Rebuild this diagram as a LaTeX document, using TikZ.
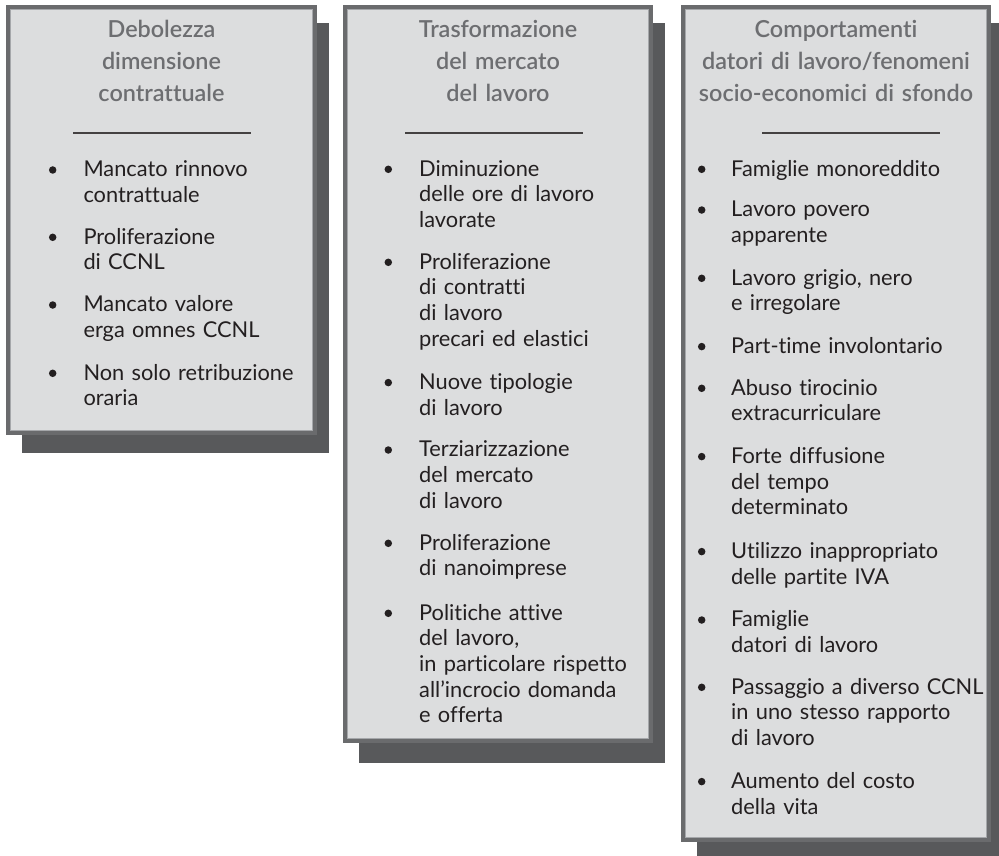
\documentclass[tikz,border=0pt]{standalone}
\usepackage{fontspec}
\setmainfont{Lato}[Ligatures=NoCommon]
\newfontfamily\titlefont{Lato Semibold}[Ligatures=NoCommon]
\definecolor{boxfill}{HTML}{DCDDDE}
\definecolor{boxborder}{HTML}{6A6B6D}
\definecolor{boxinner}{HTML}{A5A7AA}
\definecolor{shadowc}{HTML}{58595B}
\definecolor{titlec}{HTML}{6D6E71}
\definecolor{textc}{HTML}{231F20}
\tikzset{
  shadowbox/.style={fill=shadowc, draw=none},
  panelbox/.style={fill=boxfill, draw=boxborder, line width=4pt},
  panelinner/.style={draw=boxinner, line width=1.2pt},
  titletext/.style={anchor=base, inner sep=0pt, text width=300pt, align=center,
    text=titlec, font=\titlefont\fontsize{23.4}{32.2}\selectfont},
  itemtext/.style={anchor=base west, inner sep=0pt, text width=320pt, align=left,
    text=textc, font=\fontsize{21.8}{25.7}\selectfont},
  bulletdot/.style={circle, fill=textc, inner sep=0pt, minimum size=7.5pt},
  sepline/.style={draw=textc!85, line width=1.2pt}
}
\begin{document}
\begin{tikzpicture}[x=1pt,y=-1pt]
\useasboundingbox (0,0) rectangle (999,856);
% shadows
\path[shadowbox] (22,23) rectangle (329,453);
\path[shadowbox] (359,23) rectangle (665,763);
\path[shadowbox] (697,23) rectangle (999,856);
% panels
\path[panelbox] (8,7) rectangle (315,433);
\draw[panelinner] (10.6,9.6) rectangle (312.4,430.4);
\path[panelbox] (345,7) rectangle (651,741);
\draw[panelinner] (347.6,9.6) rectangle (648.4,738.4);
\path[panelbox] (683,7) rectangle (989,840);
\draw[panelinner] (685.6,9.6) rectangle (986.4,837.4);
% titles
\node[titletext] (t1) at (161.5,37.3) {Debolezza\\dimensione\\contrattuale};
\node[titletext] (t2) at (498,37.3) {Trasformazione\\del mercato\\del lavoro};
\node[titletext] (t3) at (836,37.3) {Comportamenti\\datori di lavoro/fenomeni\\socio-economici di sfondo};
% separators
\coordinate (s1a) at (73,133); \coordinate (s1b) at (251,133);
\coordinate (s2a) at (405,133); \coordinate (s2b) at (583,133);
\coordinate (s3a) at (762,133); \coordinate (s3b) at (940,133);
\draw[sepline] (s1a) -- (s1b);
\draw[sepline] (s2a) -- (s2b);
\draw[sepline] (s3a) -- (s3b);
% panel 1 items
\foreach \y/\txt [count=\i] in {176.7/{Mancato rinnovo\\contrattuale},
  244/{Proliferazione\\di CCNL},
  311.7/{Mancato valore\\erga omnes CCNL},
  380/{Non solo retribuzione\\oraria}}{
  \node[bulletdot] (p1b\i) at (52.7,\y-6.7) {};
  \node[itemtext] (p1i\i) at (83.3,\y) {\txt};
}
% panel 2 items
\foreach \y/\txt [count=\i] in {176/{Diminuzione\\delle ore di lavoro\\lavorate},
  269/{Proliferazione\\di contratti\\di lavoro\\precari ed elastici},
  389.3/{Nuove tipologie\\di lavoro},
  456.7/{Terziarizzazione\\del mercato\\di lavoro},
  550/{Proliferazione\\di nanoimprese},
  620/{Politiche attive\\del lavoro,\\in particolare rispetto\\all’incrocio domanda\\e offerta}}{
  \node[bulletdot] (p2b\i) at (388.3,\y-6.7) {};
  \node[itemtext] (p2i\i) at (419,\y) {\txt};
}
% panel 3 items
\foreach \y/\txt [count=\i] in {176/{Famiglie monoreddito},
  216.7/{Lavoro povero\\apparente},
  285/{Lavoro grigio, nero\\e irregolare},
  353.3/{Part-time involontario},
  395/{Abuso tirocinio\\extracurriculare},
  463.3/{Forte diffusione\\del tempo\\determinato},
  558.3/{Utilizzo inappropriato\\delle partite IVA},
  626.7/{Famiglie\\datori di lavoro},
  694/{Passaggio a diverso CCNL\\in uno stesso rapporto\\di lavoro},
  788.3/{Aumento del costo\\della vita}}{
  \node[bulletdot] (p3b\i) at (701.7,\y-6.7) {};
  \node[itemtext] (p3i\i) at (731,\y) {\txt};
}
\end{tikzpicture}
\end{document}
